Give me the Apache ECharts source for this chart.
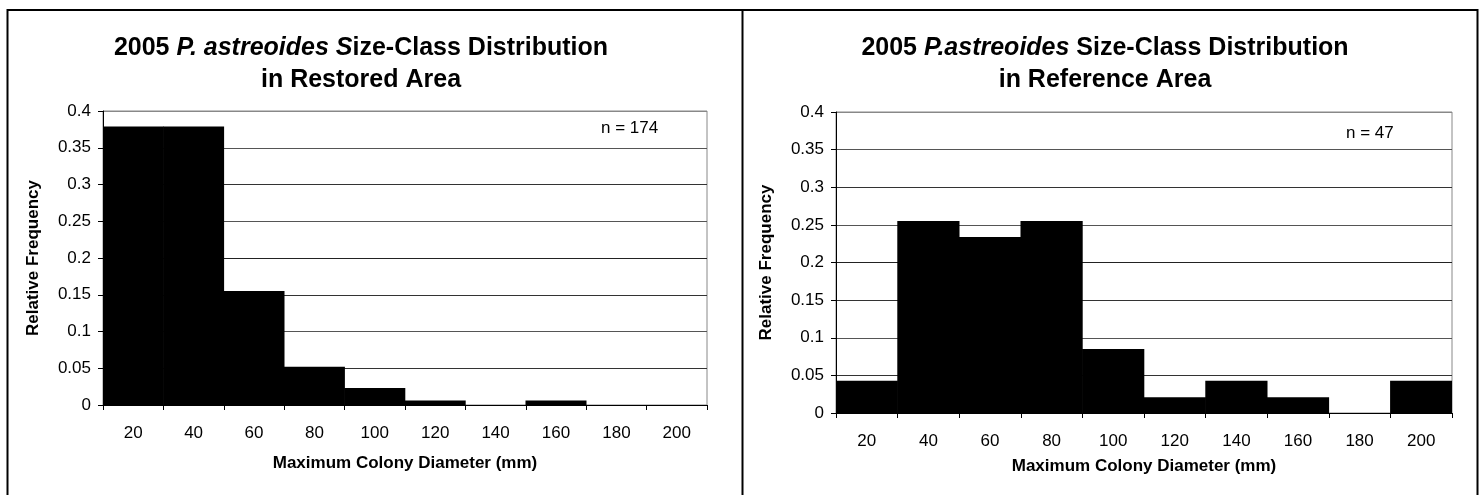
<!DOCTYPE html>
<html>
<head>
<meta charset="utf-8">
<script src="https://cdn.jsdelivr.net/npm/echarts@6/dist/echarts.min.js"></script>
<style>
html,body{margin:0;padding:0;background:#fff;}
#chart{width:1481px;height:495px;}
</style>
</head>
<body>
<div id="chart"></div>
<script>
const categories = ['20','40','60','80','100','120','140','160','180','200'];
const restoredFreq = [0.379,0.379,0.155,0.052,0.023,0.006,0,0.006,0,0];
const referenceFreq = [0.043,0.255,0.234,0.255,0.085,0.021,0.043,0.021,0,0.043];
const yMin = 0, yMax = 0.4, yStep = 0.05;
const nRestored = 'n = 174';
const nReference = 'n = 47';
const xName = 'Maximum Colony Diameter (mm)';
const yName = 'Relative Frequency';

const FONT = '"Liberation Sans", Arial, sans-serif';
const chart = echarts.init(document.getElementById('chart'));

function xAxis(gi, gap){
  return {
    type:'category', gridIndex:gi, data:categories, boundaryGap:true,
    axisLine:{show:true,lineStyle:{color:'#000',width:1}},
    axisTick:{show:true,length:5,alignWithLabel:false,lineStyle:{color:'#000'}},
    axisLabel:{color:'#000',fontSize:17,fontFamily:FONT,margin:20},
    name:xName, nameLocation:'middle', nameGap:gap,
    nameTextStyle:{color:'#000',fontSize:17,fontWeight:'bold',fontFamily:FONT}
  };
}
function yAxis(gi, gap){
  return {
    type:'value', gridIndex:gi, min:yMin, max:yMax, interval:yStep,
    axisLine:{show:true,lineStyle:{color:'#000',width:1}},
    axisTick:{show:true,length:5,lineStyle:{color:'#000'}},
    axisLabel:{color:'#000',fontSize:17,fontFamily:FONT,margin:12},
    splitLine:{show:true,lineStyle:{color:['#000','#333','#555','#333','#222','#555','#333','#555','#888'],width:1}},
    name:yName, nameLocation:'middle', nameGap:gap, nameRotate:90,
    nameTextStyle:{color:'#000',fontSize:17,fontWeight:'bold',fontFamily:FONT}
  };
}
function titleText(x, line1, line2){
  return [
    {type:'text', x:x, y:48, z:100, style:{text:line1, textAlign:'center', textVerticalAlign:'middle',
      rich:{
        b:{fontSize:25,fontWeight:'bold',fontFamily:FONT,fill:'#000'},
        bi:{fontSize:25,fontWeight:'bold',fontStyle:'italic',fontFamily:FONT,fill:'#000'}
      }}},
    {type:'text', x:x, y:80, z:100, style:{text:line2, textAlign:'center', textVerticalAlign:'middle',
      font:'bold 25px '+FONT, fill:'#000'}}
  ];
}

const option = {
  animation:false,
  backgroundColor:'#fff',
  grid:[
    {left:103, top:111, width:604, height:294, show:true, borderColor:'#888', borderWidth:1, backgroundColor:'transparent'},
    {left:836, top:112, width:616, height:301, show:true, borderColor:'#888', borderWidth:1, backgroundColor:'transparent'}
  ],
  xAxis:[xAxis(0,50), xAxis(1,45)],
  yAxis:[yAxis(0,61), yAxis(1,61)],
  series:[
    {type:'bar', xAxisIndex:0, yAxisIndex:0, data:restoredFreq, barWidth:'101%',
     itemStyle:{color:'#000'}, z:3},
    {type:'bar', xAxisIndex:1, yAxisIndex:1, data:referenceFreq, barWidth:'101%',
     itemStyle:{color:'#000'}, z:3}
  ],
  graphic:[
    {type:'rect', shape:{x:7.5,y:10,width:1470,height:500}, style:{fill:'none',stroke:'#000',lineWidth:2}, z:0},
    {type:'line', shape:{x1:742.5,y1:10,x2:742.5,y2:500}, style:{stroke:'#000',lineWidth:2}, z:0},
    {type:'text', x:601, y:128, style:{text:nRestored, font:'17px '+FONT, fill:'#000', textVerticalAlign:'middle'}},
    {type:'text', x:1346, y:133, style:{text:nReference, font:'17px '+FONT, fill:'#000', textVerticalAlign:'middle'}}
  ].concat(
    titleText(361, '{b|2005 }{bi|P. astreoides S}{b|ize-Class Distribution}', 'in Restored Area'),
    titleText(1105, '{b|2005 }{bi|P.astreoides}{b| Size-Class Distribution}', 'in Reference Area')
  )
};
chart.setOption(option);
</script>
</body>
</html>
